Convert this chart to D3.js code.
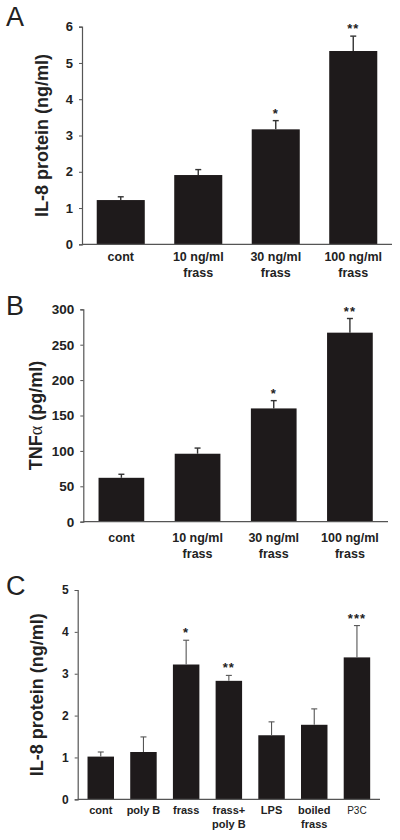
<!DOCTYPE html>
<html><head><meta charset="utf-8">
<script src="https://cdn.jsdelivr.net/npm/d3@7"></script>
<style>body{margin:0;background:#fff}svg{display:block}</style>
</head><body>
<svg id="c" width="400" height="840"></svg>
<script>
// ---- data ----
const catsA = ["cont", "10 ng/ml\nfrass", "30 ng/ml\nfrass", "100 ng/ml\nfrass"];
const valuesA = [1.22, 1.91, 3.17, 5.33];
const errorsA = [0.09, 0.15, 0.24, 0.41];
const sigA = ["", "", "*", "**"];
const ticksA = [0, 1, 2, 3, 4, 5, 6];

const catsB = ["cont", "10 ng/ml\nfrass", "30 ng/ml\nfrass", "100 ng/ml\nfrass"];
const valuesB = [62, 96, 160, 267];
const errorsB = [5, 8, 11, 20];
const sigB = ["", "", "*", "**"];
const ticksB = [0, 50, 100, 150, 200, 250, 300];

const catsC = ["cont", "poly B", "frass", "frass+\npoly B", "LPS", "boiled\nfrass", "P3C"];
const valuesC = [1.02, 1.13, 3.22, 2.83, 1.53, 1.78, 3.39];
const errorsC = [0.11, 0.36, 0.58, 0.13, 0.32, 0.38, 0.76];
const sigC = ["", "", "*", "**", "", "", "***"];
const ticksC = [0, 1, 2, 3, 4, 5];

const svg = d3.select("#c");
const FONT = "'Liberation Sans', Arial, Helvetica, sans-serif";

function panel(o) {
  const g = svg.append("g");
  const x = d3.scaleBand().domain(o.cats).range([o.x0, o.x1])
    .paddingInner(o.pi).paddingOuter(o.po);
  const y = d3.scaleLinear().domain([0, o.ticks[o.ticks.length - 1]]).range([o.y0, o.y1]);

  // bars
  g.selectAll("rect.bar").data(o.vals).join("rect")
    .attr("x", (d, i) => x(o.cats[i]))
    .attr("width", x.bandwidth())
    .attr("y", d => y(d))
    .attr("height", d => y(0) - y(d))
    .attr("fill", "#1e1a1b");

  // error bars
  const cap = 3;
  o.vals.forEach((v, i) => {
    const cx = x(o.cats[i]) + x.bandwidth() / 2;
    g.append("line").attr("x1", cx).attr("x2", cx)
      .attr("y1", y(v)).attr("y2", y(v + o.errs[i]))
      .attr("stroke", o.errColor).attr("stroke-width", o.errW);
    g.append("line").attr("x1", cx - cap).attr("x2", cx + cap)
      .attr("y1", y(v + o.errs[i])).attr("y2", y(v + o.errs[i]))
      .attr("stroke", o.errColor).attr("stroke-width", o.errW);
    if (o.sig[i]) {
      g.append("text").attr("x", cx).attr("y", y(v + o.errs[i]) - 3)
        .attr("text-anchor", "middle")
        .attr("font-family", FONT).attr("font-weight", "bold")
        .attr("font-size", 13).attr("fill", "#222")
        .attr("letter-spacing", 1)
        .text(o.sig[i]);
    }
  });

  // y axis
  const ya = g.append("g").attr("transform", `translate(${o.x0},0)`)
    .call(d3.axisLeft(y).tickValues(o.ticks).tickSize(3).tickPadding(6).tickFormat(d3.format("d")));
  ya.select(".domain").attr("stroke", "#555").attr("stroke-width", 1.2);
  ya.selectAll(".tick line").attr("stroke", "#555");
  ya.selectAll(".tick text").attr("font-family", FONT).attr("font-weight", "bold")
    .attr("font-size", o.tickSize).attr("fill", "#222");

  // x axis line
  g.append("line").attr("x1", o.x0).attr("x2", o.x1).attr("y1", o.y0).attr("y2", o.y0)
    .attr("stroke", "#555").attr("stroke-width", 1.2);

  // category labels
  o.cats.forEach((c, i) => {
    const cx = x(c) + x.bandwidth() / 2;
    const lines = c.split("\n");
    const t = g.append("text").attr("text-anchor", "middle")
      .attr("font-family", FONT).attr("fill", "#222");
    const small = c === "P3C";
    t.attr("font-weight", small ? "normal" : "bold")
      .attr("font-size", small ? 10 : o.catSize);
    lines.forEach((l, j) => {
      t.append("tspan").attr("x", cx).attr("y", o.y0 + o.catOff + j * o.lineH).text(l);
    });
  });

  // y title
  const tt = g.append("text")
    .attr("transform", `translate(${o.tx},${(o.y0 + o.y1) / 2}) rotate(-90)`)
    .attr("text-anchor", "middle").attr("dy", "0.35em")
    .attr("font-family", FONT).attr("font-weight", "bold").attr("font-size", o.tsize)
    .attr("fill", "#222");
  o.title.forEach(p => {
    const s = tt.append("tspan").text(p.t);
    if (p.serif) s.attr("font-family", "'Liberation Serif', 'Times New Roman', serif").attr("font-weight", "normal");
  });

  // panel letter
  g.append("text").attr("x", 6).attr("y", o.ly)
    .attr("font-family", FONT).attr("font-size", 27).attr("fill", "#222")
    .text(o.letter);
}

panel({cats: catsA, vals: valuesA, errs: errorsA, sig: sigA, ticks: ticksA,
  x0: 82, x1: 392, y0: 244.3, y1: 26.7, pi: 0.38, po: 0.19,
  errColor: "#333", errW: 1.4, catSize: 12.5, catOff: 16.5, lineH: 16, tickSize: 13,
  tx: 42, tsize: 18, title: [{t: "IL-8 protein (ng/ml)"}], letter: "A", ly: 26});

panel({cats: catsB, vals: valuesB, errs: errorsB, sig: sigB, ticks: ticksB,
  x0: 83.3, x1: 388, y0: 521.7, y1: 309.3, pi: 0.4, po: 0.2,
  errColor: "#333", errW: 1.4, catSize: 12.5, catOff: 20, lineH: 16, tickSize: 13.5,
  tx: 36, tsize: 18, title: [{t: "TNF"}, {t: "α", serif: true}, {t: " (pg/ml)"}], letter: "B", ly: 315});

panel({cats: catsC, vals: valuesC, errs: errorsC, sig: sigC, ticks: ticksC,
  x0: 77.7, x1: 380, y0: 799.3, y1: 590, pi: 0.38, po: 0.23,
  errColor: "#555", errW: 1.1, catSize: 11, catOff: 15, lineH: 13.5, tickSize: 12,
  tx: 37, tsize: 18, title: [{t: "IL-8 protein (ng/ml)"}], letter: "C", ly: 595});
</script>
</body></html>
